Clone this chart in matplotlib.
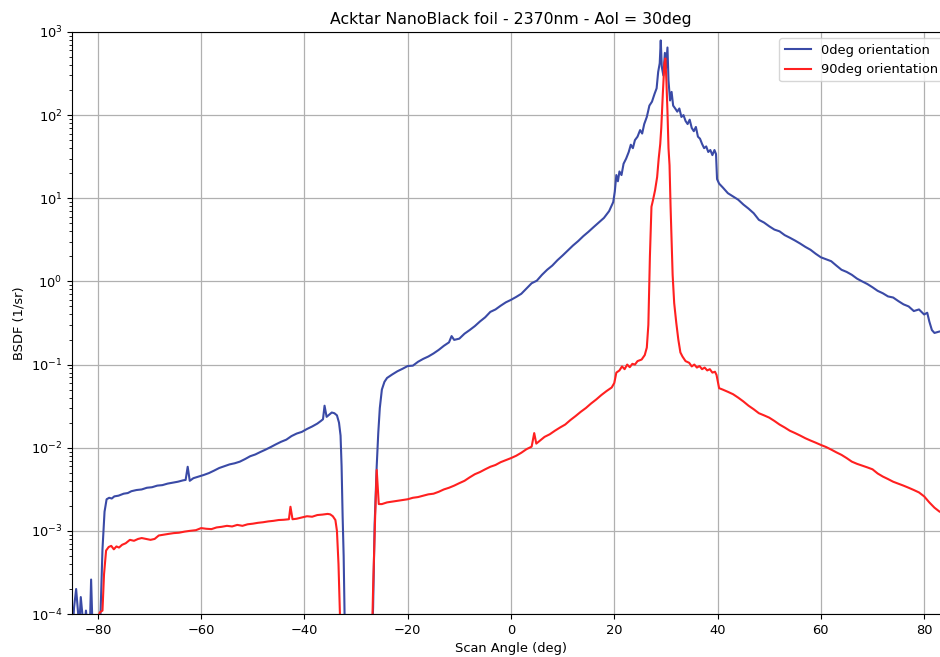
import matplotlib
matplotlib.use("Agg")
import matplotlib.pyplot as plt
import numpy as np

title = "Acktar NanoBlack foil - 2370nm - AoI = 30deg"
xlabel = "Scan Angle (deg)"
ylabel = "BSDF (1/sr)"
label_0 = "0deg orientation"
label_90 = "90deg orientation"

angle_0 = [-85.0, -84.6, -84.2, -83.9, -83.6, -83.3, -83.0, -82.7, -82.3, -82.0, -81.6, -81.3, -81.0,
           -80.5, -80.0, -79.5, -79.1, -78.7, -78.3, -77.8, -77.3, -76.8, -76.0, -75.0, -74.2, -73.5,
           -72.5, -71.5, -70.5, -69.5, -68.5, -67.5, -66.5, -65.5, -64.5, -63.5, -63.0, -62.6, -62.2,
           -61.5, -60.5, -59.5, -58.5, -57.5, -56.5, -55.5, -54.5, -53.5, -52.5, -51.5, -50.5, -49.5,
           -48.5, -47.5, -46.5, -45.5, -44.5, -43.5, -42.5, -41.5, -40.5, -39.5, -38.5, -37.5, -36.8,
           -36.4, -36.1, -35.7, -35.2, -34.7, -34.2, -33.7, -33.3, -33.0, -32.8, -32.6, -32.4, -32.2,
           -32.0, -27.0, -26.7, -26.4, -26.0, -25.7, -25.4, -25.0, -24.5, -24.0, -23.0, -22.0, -21.0,
           -20.0, -19.0, -18.0, -17.0, -16.0, -15.0, -14.0, -13.0, -12.0, -11.5, -11.0, -10.0, -9.0,
           -8.0, -7.0, -6.0, -5.0, -4.0, -3.0, -2.0, -1.0, 0.0, 1.0, 2.0, 3.0, 4.0, 5.0, 6.0, 7.0,
           8.0, 9.0, 10.0, 11.0, 12.0, 13.0, 14.0, 15.0, 16.0, 17.0, 18.0, 19.0, 19.8, 20.1, 20.4,
           20.7, 21.0, 21.4, 21.8, 22.3, 22.8, 23.2, 23.6, 24.0, 24.5, 25.0, 25.4, 25.8, 26.3, 26.8,
           27.3, 27.8, 28.2, 28.5, 28.8, 29.0, 29.2, 29.5, 29.8, 30.0, 30.3, 30.5, 30.8, 31.1, 31.4,
           31.8, 32.2, 32.6, 33.0, 33.4, 33.8, 34.2, 34.6, 35.0, 35.4, 35.8, 36.2, 36.6, 37.0, 37.4,
           37.8, 38.2, 38.6, 39.0, 39.4, 39.7, 39.9, 40.3, 41.0, 42.0, 43.0, 44.0, 45.0, 46.0, 47.0,
           48.0, 49.0, 50.0, 51.0, 52.0, 53.0, 54.0, 55.0, 56.0, 57.0, 58.0, 59.0, 60.0, 61.0, 62.0,
           63.0, 64.0, 65.0, 66.0, 67.0, 68.0, 69.0, 70.0, 71.0, 72.0, 73.0, 74.0, 75.0, 76.0, 77.0,
           78.0, 79.0, 80.0, 80.6, 81.0, 81.5, 82.0, 83.0, 85.0]
bsdf_0 = [5e-5, 1.2e-4, 2.0e-4, 1.2e-4, 7e-5, 1.6e-4, 1.0e-4, 6e-5, 1.1e-4, 7e-5, 5e-5, 2.6e-4, 6e-5,
          5e-5, 6e-5, 9e-5, 6e-4, 1.7e-3, 2.4e-3, 2.5e-3, 2.45e-3, 2.6e-3, 2.65e-3, 2.8e-3, 2.85e-3, 3.0e-3,
          3.1e-3, 3.15e-3, 3.3e-3, 3.35e-3, 3.5e-3, 3.55e-3, 3.7e-3, 3.8e-3, 3.9e-3, 4.05e-3, 4.1e-3, 5.9e-3, 4.0e-3,
          4.3e-3, 4.5e-3, 4.7e-3, 4.95e-3, 5.3e-3, 5.7e-3, 6.0e-3, 6.3e-3, 6.5e-3, 6.8e-3, 7.3e-3, 7.9e-3, 8.3e-3,
          8.9e-3, 9.5e-3, 1.02e-2, 1.1e-2, 1.18e-2, 1.25e-2, 1.38e-2, 1.48e-2, 1.55e-2, 1.68e-2, 1.8e-2, 1.95e-2, 2.1e-2,
          2.2e-2, 3.2e-2, 2.35e-2, 2.5e-2, 2.65e-2, 2.6e-2, 2.45e-2, 2.0e-2, 1.4e-2, 6e-3, 1.5e-3, 5e-4, 8e-5,
          3e-5, 3e-5, 1.2e-4, 1.2e-3, 6e-3, 1.5e-2, 3.0e-2, 5.0e-2, 6.2e-2, 6.9e-2, 7.6e-2, 8.3e-2, 8.9e-2,
          9.6e-2, 9.7e-2, 1.08e-1, 1.17e-1, 1.25e-1, 1.36e-1, 1.5e-1, 1.68e-1, 1.85e-1, 2.2e-1, 1.98e-1, 2.05e-1, 2.35e-1,
          2.6e-1, 2.9e-1, 3.3e-1, 3.7e-1, 4.3e-1, 4.6e-1, 5.1e-1, 5.6e-1, 6.0e-1, 6.5e-1, 7.1e-1, 8.2e-1, 9.5e-1, 1.02, 1.2, 1.38,
          1.55, 1.8, 2.05, 2.35, 2.7, 3.05, 3.5, 3.95, 4.5, 5.1, 5.8, 7.0, 9.0, 12.0, 19.0,
          16.0, 21.0, 19.0, 26.0, 30.0, 36.0, 44.0, 40.0, 50.0, 55.0, 66.0, 60.0, 78.0, 95.0, 130.0,
          145.0, 180.0, 210.0, 330.0, 420.0, 790.0, 380.0, 300.0, 560.0, 360.0, 650.0, 260.0, 150.0, 190.0, 130.0,
          120.0, 110.0, 120.0, 95.0, 100.0, 85.0, 78.0, 88.0, 70.0, 64.0, 72.0, 55.0, 52.0, 45.0, 40.0,
          42.0, 36.0, 38.0, 33.0, 38.0, 34.0, 17.0, 15.0, 13.5, 11.5, 10.5, 9.6, 8.4, 7.5, 6.6,
          5.5, 5.1, 4.6, 4.2, 4.0, 3.6, 3.35, 3.1, 2.85, 2.6, 2.4, 2.15, 1.95, 1.85, 1.75,
          1.55, 1.38, 1.3, 1.2, 1.08, 1.0, 0.93, 0.85, 0.77, 0.72, 0.66, 0.64, 0.58, 0.53, 0.50,
          0.44, 0.46, 0.40, 0.42, 0.33, 0.26, 0.24, 0.25, 0.25]

angle_90 = [-85.0, -80.5, -80.0, -79.6, -79.1, -78.8, -78.4, -77.9, -77.4, -76.9, -76.4, -75.9, -75.3,
            -74.6, -73.8, -73.0, -72.2, -71.5, -70.7, -69.8, -69.0, -68.2, -67.3, -66.3, -65.3, -64.3,
            -63.2, -62.2, -61.0, -60.0, -59.0, -58.0, -57.0, -56.0, -55.0, -54.0, -53.0, -52.0, -51.0,
            -50.0, -49.0, -48.0, -47.0, -46.0, -45.0, -44.0, -43.0, -42.7, -42.3, -41.5, -40.5, -39.5,
            -38.5, -37.5, -36.5, -35.5, -35.0, -34.5, -34.0, -33.7, -33.4, -33.1, -32.8, -27.0, -26.7,
            -26.3, -26.0, -25.6, -25.0, -24.0, -23.0, -22.0, -21.0, -20.0, -19.0, -18.0, -17.0, -16.0,
            -15.0, -14.0, -13.0, -12.0, -11.0, -10.0, -9.0, -8.0, -7.0, -6.0, -5.0, -4.0, -3.0, -2.0,
            -1.0, 0.0, 1.0, 2.0, 3.0, 4.0, 4.5, 4.9, 5.5, 6.5, 7.5, 8.5, 9.5, 10.5, 11.5, 12.5, 13.5,
            14.5, 15.5, 16.5, 17.5, 18.5, 19.5, 20.0, 20.4, 21.0, 21.5, 22.0, 22.5, 23.0, 23.5, 24.0,
            24.5, 25.3, 25.9, 26.3, 26.6, 26.9, 27.2, 27.5, 27.9, 28.3, 28.6, 28.9, 29.1, 29.4, 29.7,
            29.9, 30.1, 30.3, 30.5, 30.7, 30.9, 31.1, 31.3, 31.6, 32.0, 32.4, 32.8, 33.2, 33.8, 34.5,
            35.0, 35.5, 36.0, 36.5, 37.0, 37.5, 38.0, 38.5, 39.0, 39.5, 39.8, 40.3, 41.0, 42.0, 43.0,
            44.0, 45.0, 46.0, 47.0, 48.0, 49.0, 50.0, 51.0, 52.0, 53.0, 54.0, 55.0, 56.0, 57.0, 58.0,
            59.0, 60.0, 61.0, 62.0, 63.0, 64.0, 65.0, 66.0, 67.0, 68.0, 69.0, 70.0, 71.0, 72.0, 73.0,
            74.0, 75.0, 76.0, 77.0, 78.0, 79.0, 80.0, 81.0, 82.0, 83.0, 85.0]
bsdf_90 = [3e-5, 3e-5, 9e-5, 1.05e-4, 1.1e-4, 3e-4, 5.8e-4, 6.4e-4, 6.6e-4, 6.0e-4, 6.5e-4, 6.3e-4, 6.8e-4,
           7.1e-4, 7.8e-4, 7.6e-4, 8.0e-4, 8.2e-4, 8.0e-4, 7.8e-4, 8.0e-4, 8.8e-4, 9.0e-4, 9.2e-4, 9.4e-4, 9.5e-4,
           9.8e-4, 1.0e-3, 1.02e-3, 1.08e-3, 1.06e-3, 1.05e-3, 1.1e-3, 1.12e-3, 1.15e-3, 1.13e-3, 1.18e-3, 1.15e-3, 1.2e-3,
           1.22e-3, 1.25e-3, 1.27e-3, 1.3e-3, 1.32e-3, 1.35e-3, 1.36e-3, 1.38e-3, 1.95e-3, 1.38e-3, 1.4e-3, 1.45e-3, 1.5e-3,
           1.48e-3, 1.55e-3, 1.57e-3, 1.6e-3, 1.58e-3, 1.5e-3, 1.35e-3, 1.0e-3, 4e-4, 9e-5, 3e-5, 3e-5, 2e-4,
           1.5e-3, 5.4e-3, 2.1e-3, 2.1e-3, 2.2e-3, 2.25e-3, 2.3e-3, 2.35e-3, 2.4e-3, 2.5e-3, 2.55e-3, 2.65e-3, 2.75e-3,
           2.8e-3, 2.95e-3, 3.15e-3, 3.3e-3, 3.5e-3, 3.75e-3, 4.0e-3, 4.4e-3, 4.8e-3, 5.1e-3, 5.5e-3, 5.9e-3, 6.2e-3, 6.7e-3,
           7.1e-3, 7.5e-3, 8.0e-3, 8.7e-3, 9.6e-3, 1.03e-2, 1.5e-2, 1.12e-2, 1.2e-2, 1.35e-2, 1.45e-2, 1.6e-2, 1.75e-2, 1.9e-2, 2.15e-2, 2.4e-2, 2.7e-2,
           3.0e-2, 3.4e-2, 3.8e-2, 4.3e-2, 4.8e-2, 5.3e-2, 6.0e-2, 8.0e-2, 8.5e-2, 9.5e-2, 8.8e-2, 1.0e-1, 9.3e-2, 1.02e-1, 1.0e-1,
           1.1e-1, 1.15e-1, 1.3e-1, 1.6e-1, 3e-1, 2.0, 7.9, 9.5, 12.5, 18.0, 30.0, 45.0, 70.0, 180.0, 420.0,
           480.0, 250.0, 110.0, 40.0, 25.0, 8.0, 3.0, 1.2, 0.55, 0.32, 0.2, 0.14, 0.125, 0.11, 0.105,
           0.095, 0.1, 0.092, 0.096, 0.088, 0.092, 0.085, 0.088, 0.080, 0.082, 0.075, 0.052, 0.050, 0.047, 0.044,
           0.040, 0.036, 0.032, 0.029, 0.026, 0.0245, 0.023, 0.021, 0.019, 0.0175, 0.016, 0.015, 0.014, 0.013, 0.0122,
           0.0115, 0.0108, 0.0102, 0.0095, 0.0088, 0.0082, 0.0075, 0.0068, 0.0064, 0.0061, 0.0058, 0.0055, 0.0049, 0.0045, 0.0042,
           0.0039, 0.0037, 0.0035, 0.0033, 0.0031, 0.0029, 0.0026, 0.0022, 0.0019, 0.0017, 0.0016]

plt.rcParams["font.size"] = 9.4
fig = plt.figure(figsize=(9.4, 6.57), dpi=100)
ax = fig.add_axes([0.0766, 0.0654, 0.934, 0.886])
ax.plot(angle_0, bsdf_0, color="#3a4aa6", lw=1.5, label=label_0)
ax.plot(angle_90, bsdf_90, color="#ff2020", lw=1.5, label=label_90)
ax.set_yscale("log")
ax.set_xlim(-85, 85)
ax.set_ylim(1e-4, 1e3)
ax.set_xticks([-80, -60, -40, -20, 0, 20, 40, 60, 80])
ax.tick_params(labelsize=9.4)
ax.grid(True, which="major", color="#b0b0b0", lw=0.9)
ax.set_title(title, fontsize=11.3)
ax.set_xlabel(xlabel, fontsize=9.4)
ax.set_ylabel(ylabel, fontsize=9.4)
ax.legend(loc="upper right", fontsize=9.4)
fig.savefig("out.png", dpi=100)
